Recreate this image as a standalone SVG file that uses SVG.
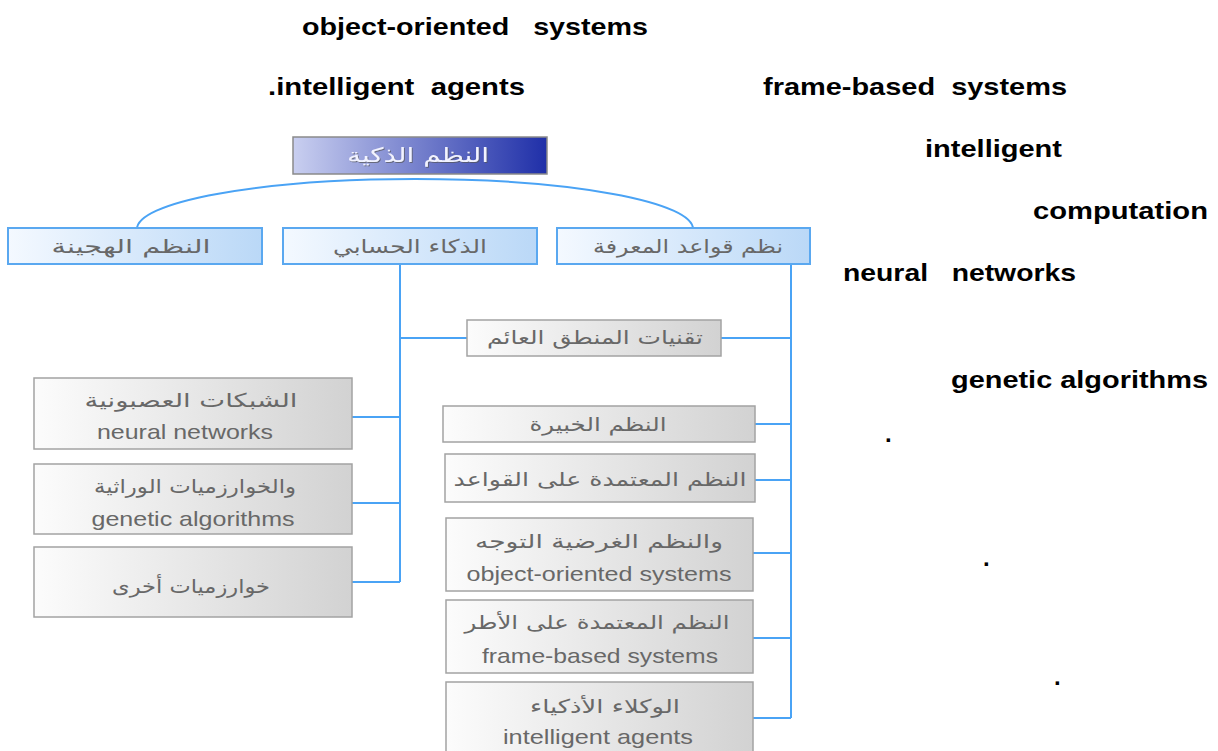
<svg xmlns="http://www.w3.org/2000/svg" width="1218" height="751" viewBox="0 0 1218 751">
<defs>
<linearGradient id="gTop" x1="0" y1="0" x2="1" y2="0">
<stop offset="0" stop-color="#c9cff0"/>
<stop offset="1" stop-color="#1f2fa8"/>
</linearGradient>
<linearGradient id="gBlue" x1="0" y1="0" x2="1" y2="0">
<stop offset="0" stop-color="#f4f9ff"/>
<stop offset="1" stop-color="#bad8f7"/>
</linearGradient>
<linearGradient id="gGray" x1="0" y1="0" x2="1" y2="0">
<stop offset="0" stop-color="#fcfcfc"/>
<stop offset="1" stop-color="#d2d2d2"/>
</linearGradient>
<filter id="sh" x="-10%" y="-30%" width="120%" height="160%">
<feDropShadow dx="1" dy="1" stdDeviation="0.6" flood-color="#555" flood-opacity="0.7"/>
</filter>
</defs>
<style>
.top{fill:url(#gTop);stroke:#8a8a8a;stroke-width:1.5}
.lvl{fill:url(#gBlue);stroke:#5aa8f0;stroke-width:2}
.box{fill:url(#gGray);stroke:#a3a3a3;stroke-width:1.5}
.ar{font-family:"DejaVu Sans",sans-serif;font-size:19px;fill:#686868;text-anchor:middle}
.la{font-family:"Liberation Sans",Arial,sans-serif;font-size:21px;fill:#686868;text-anchor:middle}
.topt{font-family:"DejaVu Sans",sans-serif;font-size:20px;fill:#f2f3ff;text-anchor:middle;filter:url(#sh)}
.fl{font-family:"Liberation Sans",Arial,sans-serif;font-size:24px;font-weight:bold;fill:#000;white-space:pre}
.cn{fill:none;stroke:#4aa3f5;stroke-width:2}
</style>
<rect width="1218" height="751" fill="#fff"/>

<g id="connectors">
<path class="cn" d="M137,229 A278,50 0 0 1 693,229"/>
<path class="cn" d="M400,264 V582"/>
<path class="cn" d="M791,264 V718"/>
<path class="cn" d="M352,417 H400 M352,503 H400 M352,582 H400"/>
<path class="cn" d="M400,338 H467 M721,338 H791"/>
<path class="cn" d="M755,424 H791 M755,480 H791 M753,553 H791 M753,638 H791 M753,718 H791"/>
</g>

<g id="n-root">
<rect class="top" x="293" y="137" width="254" height="37"/>
<text class="topt" x="418" y="162" textLength="142" lengthAdjust="spacingAndGlyphs">النظم الذكية</text>
</g>

<g id="n-hybrid">
<rect class="lvl" x="8" y="228" width="254" height="36"/>
<text class="ar" x="131" y="253" textLength="159" lengthAdjust="spacingAndGlyphs">النظم الهجينة</text>
</g>
<g id="n-computational">
<rect class="lvl" x="283" y="228" width="254" height="36"/>
<text class="ar" x="410" y="253" textLength="154" lengthAdjust="spacingAndGlyphs">الذكاء الحسابي</text>
</g>
<g id="n-knowledge">
<rect class="lvl" x="557" y="228" width="253" height="36"/>
<text class="ar" x="688" y="253" textLength="190" lengthAdjust="spacingAndGlyphs">نظم قواعد المعرفة</text>
</g>

<g id="n-fuzzy">
<rect class="box" x="467" y="320" width="254" height="36"/>
<text class="ar" x="595" y="344" textLength="216" lengthAdjust="spacingAndGlyphs">تقنيات المنطق العائم</text>
</g>

<g id="n-neural">
<rect class="box" x="34" y="378" width="318" height="71"/>
<text class="ar" x="191" y="407" textLength="213" lengthAdjust="spacingAndGlyphs">الشبكات العصبونية</text>
<text class="la" x="185" y="439" textLength="176" lengthAdjust="spacingAndGlyphs">neural networks</text>
</g>
<g id="n-genetic">
<rect class="box" x="34" y="464" width="318" height="70"/>
<text class="ar" x="195" y="493" textLength="202" lengthAdjust="spacingAndGlyphs">والخوارزميات الوراثية</text>
<text class="la" x="193" y="526" textLength="203" lengthAdjust="spacingAndGlyphs">genetic algorithms</text>
</g>
<g id="n-other">
<rect class="box" x="34" y="547" width="318" height="70"/>
<text class="ar" x="191" y="593" textLength="158" lengthAdjust="spacingAndGlyphs">خوارزميات أخرى</text>
</g>

<g id="n-expert">
<rect class="box" x="443" y="406" width="312" height="36"/>
<text class="ar" x="598" y="431" textLength="137" lengthAdjust="spacingAndGlyphs">النظم الخبيرة</text>
</g>
<g id="n-rule">
<rect class="box" x="445" y="454" width="310" height="48"/>
<text class="ar" x="600" y="486" textLength="293" lengthAdjust="spacingAndGlyphs">النظم المعتمدة على القواعد</text>
</g>
<g id="n-oo">
<rect class="box" x="446" y="518" width="307" height="73"/>
<text class="ar" x="599" y="548" textLength="248" lengthAdjust="spacingAndGlyphs">والنظم الغرضية التوجه</text>
<text class="la" x="599" y="581" textLength="265" lengthAdjust="spacingAndGlyphs">object-oriented systems</text>
</g>
<g id="n-frame">
<rect class="box" x="446" y="600" width="307" height="73"/>
<text class="ar" x="597" y="629" textLength="265" lengthAdjust="spacingAndGlyphs">النظم المعتمدة على الأطر</text>
<text class="la" x="600" y="663" textLength="236" lengthAdjust="spacingAndGlyphs">frame-based systems</text>
</g>
<g id="n-agents">
<rect class="box" x="446" y="682" width="307" height="90"/>
<text class="ar" x="605" y="713" textLength="150" lengthAdjust="spacingAndGlyphs">الوكلاء الأذكياء</text>
<text class="la" x="598" y="744" textLength="190" lengthAdjust="spacingAndGlyphs">intelligent agents</text>
</g>

<g id="floating-text">
<text class="fl" x="302" y="35" textLength="346" lengthAdjust="spacingAndGlyphs">object-oriented   systems</text>
<text class="fl" x="268" y="95" textLength="257" lengthAdjust="spacingAndGlyphs">.intelligent  agents</text>
<text class="fl" x="763" y="95" textLength="304" lengthAdjust="spacingAndGlyphs">frame-based  systems</text>
<text class="fl" x="925" y="157" textLength="137" lengthAdjust="spacingAndGlyphs">intelligent</text>
<text class="fl" x="1033" y="219" textLength="175" lengthAdjust="spacingAndGlyphs">computation</text>
<text class="fl" x="843" y="281" textLength="233" lengthAdjust="spacingAndGlyphs">neural   networks</text>
<text class="fl" x="951" y="388" textLength="257" lengthAdjust="spacingAndGlyphs">genetic algorithms</text>
<text class="fl" x="885" y="442">.</text>
<text class="fl" x="983" y="566">.</text>
<text class="fl" x="1054" y="685">.</text>
</g>
</svg>
